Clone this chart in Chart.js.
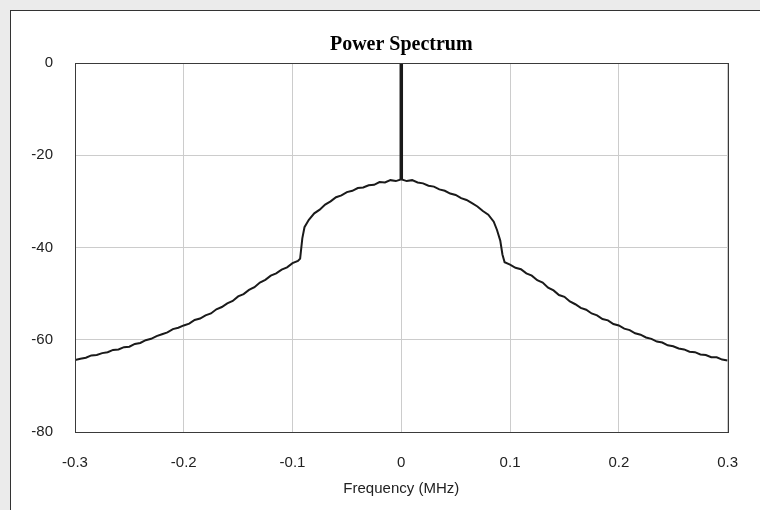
<!DOCTYPE html>
<html>
<head>
<meta charset="utf-8">
<script src="https://cdn.jsdelivr.net/npm/chart.js@4.4.1/dist/chart.umd.min.js"></script>
<style>
  html, body { margin: 0; padding: 0; background: #ebebeb; overflow: hidden; }
  #frame {
    position: absolute; left: 10px; top: 10px; width: 800px; height: 560px;
    background: #fff; border-left: 1px solid #333; border-top: 1px solid #333;
  }
  #wrap { position: absolute; left: 0; top: 0; width: 760px; height: 510px; }
</style>
</head>
<body>
<div id="frame"></div>
<div id="wrap"><canvas id="spectrum" width="760" height="510"></canvas></div>
<script>
// Frequency grid (MHz)
const freqs = [
  -0.300, -0.295, -0.290, -0.285, -0.280, -0.275, -0.270, -0.265, -0.260, -0.255,
  -0.250, -0.245, -0.240, -0.235, -0.230, -0.225, -0.220, -0.215, -0.210, -0.205,
  -0.200, -0.195, -0.190, -0.185, -0.180, -0.175, -0.170, -0.165, -0.160, -0.155,
  -0.150, -0.145, -0.140, -0.135, -0.130, -0.125, -0.120, -0.115, -0.110, -0.105,
  -0.100, -0.095, -0.093, -0.091, -0.089, -0.085,
  -0.080, -0.075, -0.070, -0.065, -0.060, -0.055, -0.050, -0.045, -0.040, -0.035,
  -0.030, -0.025, -0.020, -0.015, -0.010, -0.005, 0.000, 0.005, 0.010, 0.015,
  0.020, 0.025, 0.030, 0.035, 0.040, 0.045, 0.050, 0.055, 0.060, 0.065,
  0.070, 0.075, 0.080, 0.085, 0.088, 0.091, 0.093, 0.095,
  0.100, 0.105, 0.110, 0.115, 0.120, 0.125, 0.130, 0.135, 0.140, 0.145,
  0.150, 0.155, 0.160, 0.165, 0.170, 0.175, 0.180, 0.185, 0.190, 0.195,
  0.200, 0.205, 0.210, 0.215, 0.220, 0.225, 0.230, 0.235, 0.240, 0.245,
  0.250, 0.255, 0.260, 0.265, 0.270, 0.275, 0.280, 0.285, 0.290, 0.295,
  0.300
];

// Power (dB) at each frequency
const power = [
  -64.4, -64.1, -63.9, -63.4, -63.3, -62.9, -62.7, -62.2, -62.1, -61.6,
  -61.5, -60.9, -60.7, -60.1, -59.8, -59.2, -58.8, -58.4, -57.7, -57.4,
  -56.9, -56.5, -55.7, -55.4, -54.7, -54.3, -53.4, -52.9, -52.1, -51.6,
  -50.6, -50.1, -49.2, -48.6, -47.6, -47.0, -46.1, -45.6, -44.8, -44.3,
  -43.4, -42.9, -42.4, -38.0, -35.6, -34.0,
  -32.6, -31.8, -30.7, -30.0, -29.1, -28.7, -28.0, -27.7, -27.1, -27.0,
  -26.5, -26.4, -25.8, -25.9, -25.4, -25.6, -25.2, -25.6, -25.4, -25.9,
  -26.1, -26.6, -26.8, -27.4, -27.7, -28.3, -28.6, -29.3, -29.7, -30.4,
  -31.1, -32.1, -32.9, -34.4, -36.2, -38.5, -41.5, -43.2,
  -43.7, -44.4, -44.7, -45.6, -46.1, -47.1, -47.6, -48.7, -49.3, -50.3,
  -50.7, -51.7, -52.3, -53.1, -53.5, -54.3, -54.7, -55.5, -55.8, -56.6,
  -56.9, -57.6, -57.9, -58.6, -58.9, -59.5, -59.8, -60.4, -60.6, -61.2,
  -61.4, -61.9, -62.1, -62.6, -62.7, -63.2, -63.3, -63.8, -63.8, -64.3,
  -64.5
];

// Carrier spike at 0 MHz
const spikeFreqs = [0, 0];
const spikePower = [-25.2, 0];

const xTicks = [-0.3, -0.2, -0.1, 0, 0.1, 0.2, 0.3];
const yTicks = [-80, -60, -40, -20, 0];

const toPoints = (xs, ys) => xs.map((x, i) => ({ x: x, y: ys[i] }));

// Box around the plot area
const plotBorder = {
  id: 'plotBorder',
  afterDraw(chart) {
    const a = chart.chartArea;
    const ctx = chart.ctx;
    ctx.save();
    ctx.strokeStyle = '#3a3a3a';
    ctx.lineWidth = 1;
    ctx.strokeRect(Math.round(a.left) + 0.5, Math.round(a.top) + 0.5,
      Math.round(a.right - a.left), Math.round(a.bottom - a.top));
    ctx.restore();
  }
};

const tickFont = { family: "'Liberation Sans', Arial, sans-serif", size: 15 };

new Chart(document.getElementById('spectrum'), {
  type: 'line',
  data: {
    datasets: [
      {
        data: toPoints(freqs, power),
        borderColor: '#1a1a1a',
        borderWidth: 2,
        pointRadius: 0,
        tension: 0
      },
      {
        data: toPoints(spikeFreqs, spikePower),
        borderColor: '#1a1a1a',
        borderWidth: 3.5,
        pointRadius: 0
      }
    ]
  },
  options: {
    responsive: false,
    animation: false,
    layout: { padding: { left: 0, right: 32, top: 0, bottom: 0 } },
    plugins: {
      legend: { display: false },
      tooltip: { enabled: false },
      title: {
        display: true,
        text: 'Power Spectrum',
        fullSize: false,
        color: '#000',
        font: { family: "'Liberation Serif', 'Times New Roman', serif", size: 20, weight: 'bold' },
        padding: { top: 33, bottom: 6 }
      }
    },
    scales: {
      x: {
        type: 'linear',
        min: -0.3,
        max: 0.3,
        afterBuildTicks: (scale) => { scale.ticks = xTicks.map(v => ({ value: v })); },
        afterFit: (scale) => { scale.height = 78; },
        grid: { color: '#cccccc', drawTicks: false },
        border: { display: false },
        ticks: {
          color: '#222',
          font: tickFont,
          padding: 22,
          maxRotation: 0,
          callback: (v) => String(Math.round(v * 10) / 10)
        },
        title: {
          display: true,
          text: 'Frequency (MHz)',
          color: '#222',
          font: tickFont,
          padding: { top: 0, bottom: 12 }
        }
      },
      y: {
        min: -80,
        max: 0,
        afterBuildTicks: (scale) => { scale.ticks = yTicks.map(v => ({ value: v })); },
        afterFit: (scale) => { scale.width = 75; },
        grid: { color: '#cccccc', drawTicks: false },
        border: { display: false },
        ticks: { color: '#222', font: tickFont, padding: 22 }
      }
    }
  },
  plugins: [plotBorder]
});
</script>
</body>
</html>
